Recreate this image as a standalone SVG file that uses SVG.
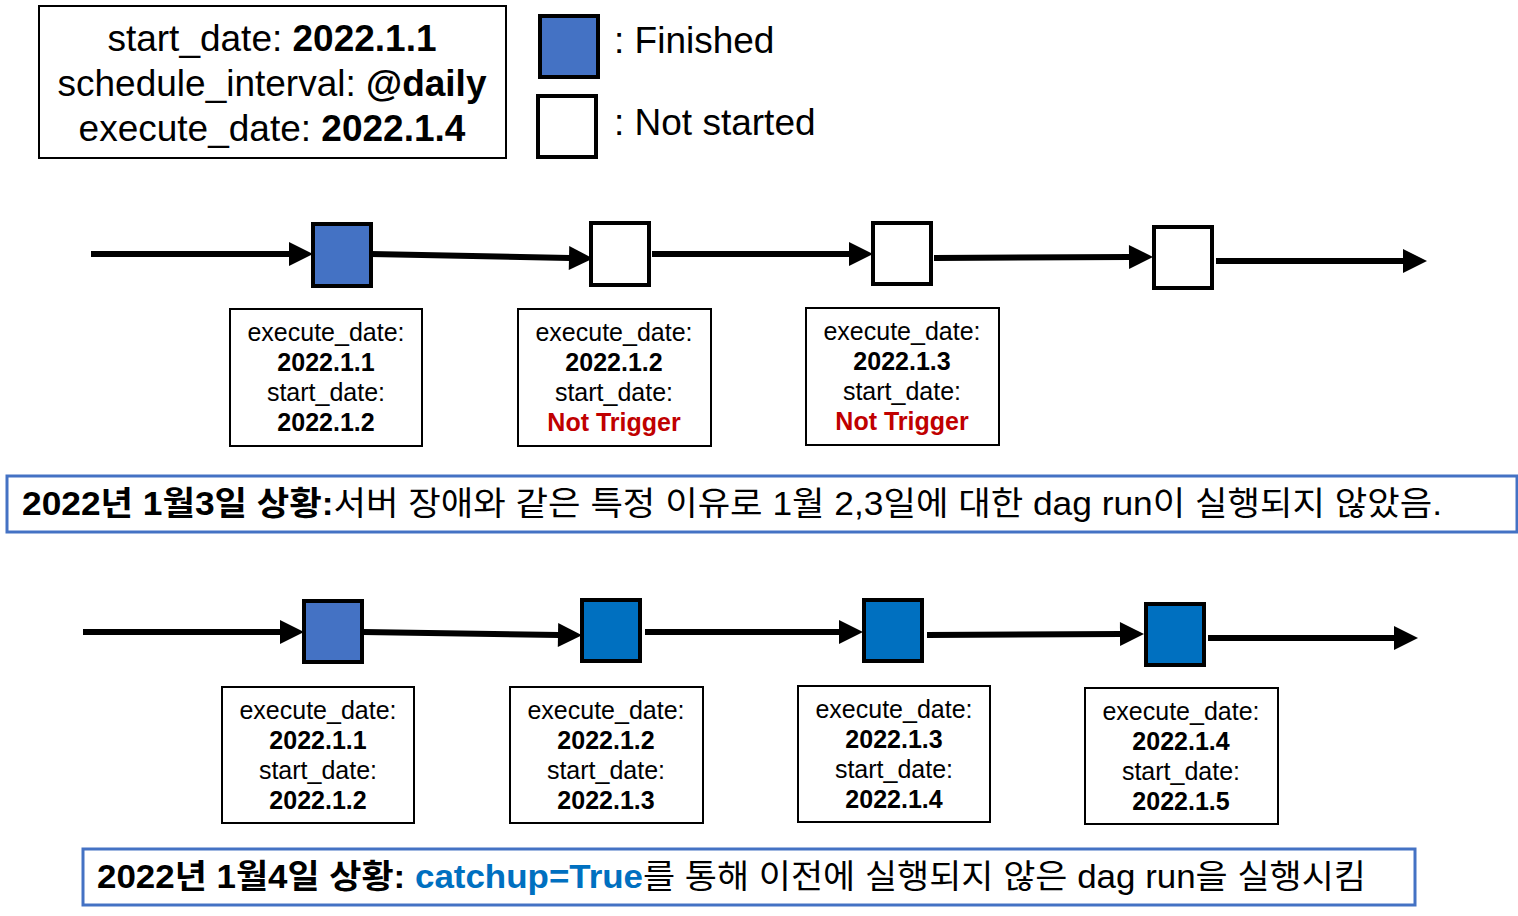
<svg xmlns="http://www.w3.org/2000/svg" width="1518" height="916" viewBox="0 0 1518 916">
<style>
text{font-family:"Liberation Sans","Noto Sans CJK KR",sans-serif;fill:#000}
.t{font-size:37px;text-anchor:middle}
.lg{font-size:37px}
.lb{font-size:25px;text-anchor:middle}
.b{font-weight:bold}
.red{fill:#C00000;font-weight:bold}
.box{fill:#fff;stroke:#000;stroke-width:2}
.sq{stroke:#000;stroke-width:4}
.fin{fill:#4472C4}
.fin2{fill:#0070C0}
.ns{fill:#fff}
.ban{fill:#fff;stroke:#4472C4;stroke-width:3}
.bt{font-size:33px}
.blue{fill:#0070C0;font-weight:bold}
.c{stroke:#000;stroke-width:6;fill:none;marker-end:url(#ah)}
</style>
<defs>
<marker id="ah" markerUnits="userSpaceOnUse" markerWidth="26" markerHeight="26" refX="1" refY="12" orient="auto" overflow="visible">
<path d="M0,0 L24,12 L0,24 Z" fill="#000"/>
</marker>
</defs>
<rect width="1518" height="916" fill="#fff"/>

<g id="info">
<rect class="box" x="39" y="6" width="467" height="152"/>
<text class="t" x="272" y="51">start_date: <tspan class="b">2022.1.1</tspan></text>
<text class="t" x="272" y="96">schedule_interval: <tspan class="b">@daily</tspan></text>
<text class="t" x="272" y="141">execute_date: <tspan class="b">2022.1.4</tspan></text>
</g>

<g id="legend">
<rect class="sq fin" x="540" y="16" width="58" height="61"/>
<text class="lg" x="614" y="53">: Finished</text>
<rect class="sq ns" x="538" y="96" width="58" height="61"/>
<text class="lg" x="614" y="135">: Not started</text>
</g>

<g id="connectors">
<line class="c" x1="91" y1="254" x2="290" y2="254"/>
<line class="c" x1="371" y1="254" x2="570" y2="258"/>
<line class="c" x1="652" y1="254" x2="850" y2="254"/>
<line class="c" x1="934" y1="258" x2="1130" y2="257"/>
<line class="c" x1="1216" y1="261" x2="1404" y2="261"/>
<line class="c" x1="83" y1="632" x2="281" y2="632"/>
<line class="c" x1="363" y1="632" x2="559" y2="635"/>
<line class="c" x1="645" y1="632" x2="840" y2="632"/>
<line class="c" x1="927" y1="635" x2="1121" y2="634"/>
<line class="c" x1="1208" y1="638" x2="1395" y2="638"/>
</g>

<g id="top1"><rect class="sq fin" x="313" y="224" width="58" height="62"/></g>
<g id="top2"><rect class="sq ns" x="591" y="223" width="58" height="62"/></g>
<g id="top3"><rect class="sq ns" x="873" y="223" width="58" height="61"/></g>
<g id="top4"><rect class="sq ns" x="1154" y="227" width="58" height="61"/></g>

<g id="toplabel1">
<rect class="box" x="230" y="309" width="192" height="137"/>
<text class="lb" x="326" y="341">execute_date:</text>
<text class="lb b" x="326" y="371">2022.1.1</text>
<text class="lb" x="326" y="401">start_date:</text>
<text class="lb b" x="326" y="431">2022.1.2</text>
</g>
<g id="toplabel2">
<rect class="box" x="518" y="309" width="193" height="137"/>
<text class="lb" x="614" y="341">execute_date:</text>
<text class="lb b" x="614" y="371">2022.1.2</text>
<text class="lb" x="614" y="401">start_date:</text>
<text class="lb red" x="614" y="431">Not Trigger</text>
</g>
<g id="toplabel3">
<rect class="box" x="806" y="308" width="193" height="137"/>
<text class="lb" x="902" y="340">execute_date:</text>
<text class="lb b" x="902" y="370">2022.1.3</text>
<text class="lb" x="902" y="400">start_date:</text>
<text class="lb red" x="902" y="430">Not Trigger</text>
</g>

<g id="banner1">
<rect class="ban" x="7" y="476" width="1510" height="56"/>
<text class="bt" x="22" y="515" textLength="1420" lengthAdjust="spacingAndGlyphs"><tspan class="b">2022년 1월3일 상황:</tspan>서버 장애와 같은 특정 이유로 1월 2,3일에 대한 dag run이 실행되지 않았음.</text>
</g>

<g id="bot1"><rect class="sq fin" x="304" y="601" width="58" height="61"/></g>
<g id="bot2"><rect class="sq fin2" x="582" y="600" width="58" height="61"/></g>
<g id="bot3"><rect class="sq fin2" x="864" y="600" width="58" height="61"/></g>
<g id="bot4"><rect class="sq fin2" x="1146" y="604" width="58" height="61"/></g>

<g id="botlabel1">
<rect class="box" x="222" y="687" width="192" height="136"/>
<text class="lb" x="318" y="719">execute_date:</text>
<text class="lb b" x="318" y="749">2022.1.1</text>
<text class="lb" x="318" y="779">start_date:</text>
<text class="lb b" x="318" y="809">2022.1.2</text>
</g>
<g id="botlabel2">
<rect class="box" x="510" y="687" width="193" height="136"/>
<text class="lb" x="606" y="719">execute_date:</text>
<text class="lb b" x="606" y="749">2022.1.2</text>
<text class="lb" x="606" y="779">start_date:</text>
<text class="lb b" x="606" y="809">2022.1.3</text>
</g>
<g id="botlabel3">
<rect class="box" x="798" y="686" width="192" height="136"/>
<text class="lb" x="894" y="718">execute_date:</text>
<text class="lb b" x="894" y="748">2022.1.3</text>
<text class="lb" x="894" y="778">start_date:</text>
<text class="lb b" x="894" y="808">2022.1.4</text>
</g>
<g id="botlabel4">
<rect class="box" x="1085" y="688" width="193" height="136"/>
<text class="lb" x="1181" y="720">execute_date:</text>
<text class="lb b" x="1181" y="750">2022.1.4</text>
<text class="lb" x="1181" y="780">start_date:</text>
<text class="lb b" x="1181" y="810">2022.1.5</text>
</g>

<g id="banner2">
<rect class="ban" x="83" y="849" width="1332" height="56"/>
<text class="bt" x="97" y="888" textLength="1269" lengthAdjust="spacingAndGlyphs"><tspan class="b">2022년 1월4일 상황: </tspan><tspan class="blue">catchup=True</tspan>를 통해 이전에 실행되지 않은 dag run을 실행시킴</text>
</g>
</svg>
